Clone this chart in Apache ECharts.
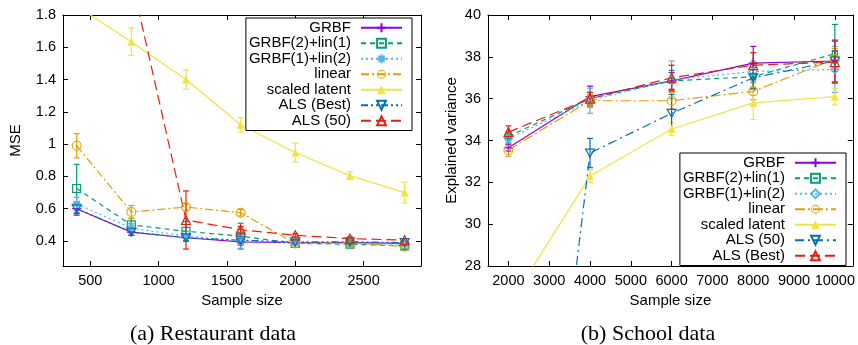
<!DOCTYPE html>
<html>
<head>
<meta charset="utf-8">
<script src="https://cdn.jsdelivr.net/npm/echarts@6/dist/echarts.min.js"></script>
<style>
  html, body { margin: 0; padding: 0; background: #fff; }
  #chart { width: 858px; height: 345px; }
</style>
</head>
<body>
<div id="chart"></div>
<script>
// ---- (a) Restaurant data ----
const restSizes = [400, 800, 1200, 1600, 2000, 2400, 2800];
const restTicksX = [500, 1000, 1500, 2000, 2500];
const restTicksY = [0.4, 0.6, 0.8, 1, 1.2, 1.4, 1.6, 1.8];
const restNames = ['GRBF', 'GRBF(2)+lin(1)', 'GRBF(1)+lin(2)', 'linear', 'scaled latent', 'ALS (Best)', 'ALS (50)'];

const restGRBF = [0.60, 0.455, 0.42, 0.395, 0.39, 0.39, 0.385];
const restGRBFErr = [0.04, 0.02, 0.02, 0.02, 0.01, 0.01, 0.01];
const restG2L1 = [0.725, 0.50, 0.46, 0.43, 0.385, 0.38, 0.37];
const restG2L1Err = [0.15, 0.04, 0.06, 0.08, 0.01, 0.015, 0.015];
const restG1L2 = [0.63, 0.48, 0.43, 0.40, 0.39, 0.385, 0.38];
const restG1L2Err = [0.04, 0.03, 0.03, 0.045, 0.01, 0.01, 0.01];
const restLinear = [0.99, 0.58, 0.61, 0.575, 0.385, 0.39, 0.365];
const restLinearErr = [0.075, 0.04, 0.02, 0.02, 0.01, 0.01, 0.02];
const restScaled = [1.855, 1.635, 1.40, 1.12, 0.948, 0.805, 0.70];
const restScaledErr = [0.04, 0.085, 0.06, 0.045, 0.058, 0.025, 0.065];
const restALSBest = [0.60, 0.455, 0.42, 0.405, 0.395, 0.395, 0.39];
const restALSBestErr = [0.03, 0.02, 0.02, 0.02, 0.01, 0.01, 0.01];
const restALS50 = [null, 2.03, 0.53, 0.47, 0.435, 0.415, 0.405];
const restALS50Err = [null, 0.2, 0.18, 0.02, 0.01, 0.01, 0.01];

// ---- (b) School data ----
const schoolSizes = [2000, 4000, 6000, 8000, 10000];
const schoolTicksX = [2000, 3000, 4000, 5000, 6000, 7000, 8000, 9000, 10000];
const schoolTicksY = [28, 30, 32, 34, 36, 38, 40];
const schoolNames = ['GRBF', 'GRBF(2)+lin(1)', 'GRBF(1)+lin(2)', 'linear', 'scaled latent', 'ALS (50)', 'ALS (Best)'];

const schoolGRBF = [33.65, 36.1, 36.85, 37.7, 37.8];
const schoolGRBFErr = [0.15, 0.5, 0.4, 0.8, 1.0];
const schoolG2L1 = [34.2, 36.0, 36.85, 37.05, 38.15];
const schoolG2L1Err = [0.2, 0.3, 0.5, 0.6, 1.4];
const schoolG1L2 = [34.1, 35.9, 36.9, 37.3, 37.4];
const schoolG1L2Err = [0.2, 0.6, 0.9, 0.5, 1.1];
const schoolLinear = [33.55, 35.9, 35.9, 36.35, 37.9];
const schoolLinearErr = [0.3, 0.3, 0.4, 0.4, 0.5];
const schoolScaled = [26.1, 32.3, 34.55, 35.8, 36.1];
const schoolScaledErr = [0.2, 0.3, 0.3, 0.8, 0.4];
const schoolALS50 = [1.0, 33.4, 35.3, 37.0, 37.8];
const schoolALS50Err = [0.2, 0.7, 0.9, 0.5, 0.5];
const schoolALSBest = [34.4, 36.0, 37.0, 37.6, 37.75];
const schoolALSBestErr = [0.3, 0.3, 0.6, 0.6, 1.0];

// ---- styles ----
const C = ['#9400D3', '#009E73', '#56B4E9', '#E69F00', '#F0E442', '#0072B2', '#E51E10'];
const PLUS = 'path://M0,5L10,5M5,0L5,10';
const STAR = 'path://M0,5L10,5M5,0L5,10M1.5,1.5L8.5,8.5M1.5,8.5L8.5,1.5';
const CIRCLE_DOT = 'path://M5,0A5,5 0 1,1 5,10A5,5 0 1,1 5,0Z M5,1.1A3.9,3.9 0 1,0 5,8.9A3.9,3.9 0 1,0 5,1.1Z M5,4.1A0.9,0.9 0 1,1 5,5.9A0.9,0.9 0 1,1 5,4.1Z';
const DOWN_TRI = 'path://M0,0L10,0L5,8.7Z';
const CLEAR = 'rgba(0,0,0,0)';

function sym(symbol, size, color, filled) {
  return { symbol, size, itemStyle: filled
    ? { color, borderWidth: 0 }
    : { color: CLEAR, borderColor: color, borderWidth: 1.2 } };
}

const restStyles = [
  { ...sym(PLUS, 9, C[0]), dash: 'solid' },
  { ...sym('rect', 8, C[1]), dash: [5, 4] },
  { ...sym(STAR, 9, C[2]), dash: [2, 3] },
  { ...sym(CIRCLE_DOT, 10, C[3], true), dash: [8, 3, 2, 3] },
  { ...sym('triangle', 8, C[4], true), dash: 'solid' },
  { ...sym(DOWN_TRI, 9, C[5]), dash: [7, 3, 2, 3, 2, 3] },
  { ...sym('triangle', 9, C[6]), dash: [10, 5] }
];
const schoolStyles = [
  { ...sym(PLUS, 9, C[0]), dash: 'solid' },
  { ...sym('rect', 5, C[1]), dash: [5, 4] },
  { ...sym('diamond', 8, C[2]), dash: [2, 3] },
  { ...sym(CIRCLE_DOT, 10, C[3], true), dash: [10, 3, 2, 3] },
  { ...sym('triangle', 8, C[4], true), dash: 'solid' },
  { ...sym(DOWN_TRI, 9, C[5]), dash: [9, 4, 2, 4] },
  { ...sym('triangle', 9, C[6]), dash: [10, 5] }
];

const restValues = [restGRBF, restG2L1, restG1L2, restLinear, restScaled, restALSBest, restALS50];
const restErrs = [restGRBFErr, restG2L1Err, restG1L2Err, restLinearErr, restScaledErr, restALSBestErr, restALS50Err];
const schoolValues = [schoolGRBF, schoolG2L1, schoolG1L2, schoolLinear, schoolScaled, schoolALS50, schoolALSBest];
const schoolErrs = [schoolGRBFErr, schoolG2L1Err, schoolG1L2Err, schoolLinearErr, schoolScaledErr, schoolALS50Err, schoolALSBestErr];

const FONT = 'Liberation Sans';

function lineSeries(name, xs, ys, st, axis) {
  return {
    type: 'line', name, xAxisIndex: axis, yAxisIndex: axis,
    data: xs.map((x, i) => [x, ys[i]]),
    symbol: st.symbol, symbolSize: st.size, symbolKeepAspect: true,
    showAllSymbol: true, clip: true, connectNulls: false,
    lineStyle: { color: st.itemStyle.borderColor || st.itemStyle.color, width: 1.2, type: st.dash },
    itemStyle: st.itemStyle,
    emphasis: { disabled: true }, silent: true, z: 3
  };
}

function errSeries(xs, ys, errs, color, axis) {
  const data = [];
  xs.forEach((x, i) => {
    if (ys[i] != null && errs[i] != null) data.push([x, ys[i] - errs[i], ys[i] + errs[i]]);
  });
  return {
    type: 'custom', xAxisIndex: axis, yAxisIndex: axis, clip: true, silent: true, z: 3,
    data, encode: { x: 0, y: [1, 2] },
    renderItem: (params, api) => {
      const lo = api.coord([api.value(0), api.value(1)]);
      const hi = api.coord([api.value(0), api.value(2)]);
      const w = 3;
      const st = { stroke: color, lineWidth: 1.2 };
      return { type: 'group', children: [
        { type: 'line', shape: { x1: lo[0], y1: lo[1], x2: hi[0], y2: hi[1] }, style: st },
        { type: 'line', shape: { x1: lo[0] - w, y1: lo[1], x2: lo[0] + w, y2: lo[1] }, style: st },
        { type: 'line', shape: { x1: hi[0] - w, y1: hi[1], x2: hi[0] + w, y2: hi[1] }, style: st }
      ] };
    }
  };
}

const series = [];
restNames.forEach((n, k) => {
  const col = restStyles[k].itemStyle.borderColor || restStyles[k].itemStyle.color;
  series.push(errSeries(restSizes, restValues[k], restErrs[k], col, 0));
  series.push(lineSeries(n, restSizes, restValues[k], restStyles[k], 0));
});
schoolNames.forEach((n, k) => {
  const col = schoolStyles[k].itemStyle.borderColor || schoolStyles[k].itemStyle.color;
  series.push(errSeries(schoolSizes, schoolValues[k], schoolErrs[k], col, 2));
  // trailing space keeps names distinct from panel (a); trimmed in the legend
  series.push(lineSeries(n + ' ', schoolSizes, schoolValues[k], schoolStyles[k], 2));
});

const axisLine = { show: true, lineStyle: { color: '#000', width: 1 } };
const labelStyle = { color: '#000', fontFamily: FONT, fontSize: 14.5 };

function xAx(grid, min, max, ticks, pos, name) {
  const bottom = pos === 'bottom';
  return {
    type: 'value', gridIndex: grid, position: pos, min, max,
    axisLine, splitLine: { show: false },
    axisTick: { inside: true, length: 5, lineStyle: { color: '#000' }, customValues: ticks },
    axisLabel: { show: bottom, ...labelStyle, margin: 7, customValues: ticks, formatter: v => String(v) },
    name: bottom ? name : '', nameLocation: 'middle', nameGap: 24,
    nameTextStyle: { color: '#000', fontFamily: FONT, fontSize: 15 }
  };
}
function yAx(grid, min, max, ticks, pos, name, gap, fmt) {
  const left = pos === 'left';
  return {
    type: 'value', gridIndex: grid, position: pos, min, max,
    axisLine, splitLine: { show: false },
    axisTick: { inside: true, length: 5, lineStyle: { color: '#000' }, customValues: ticks },
    axisLabel: { show: left, ...labelStyle, margin: 7, customValues: ticks, formatter: fmt },
    name: left ? name : '', nameLocation: 'middle', nameGap: gap, nameRotate: 90,
    nameTextStyle: { color: '#000', fontFamily: FONT, fontSize: 15 }
  };
}

const restFmt = v => (Math.abs(v - 1) < 1e-9 ? '1' : v.toFixed(1));
const schoolFmt = v => String(Math.round(v));

function legend(names, right, top) {
  return {
    data: names, orient: 'vertical', align: 'right', right, top,
    itemWidth: 41, itemHeight: 11, itemGap: 0, selectedMode: false,
    padding: [2, 9, 2, 3], borderColor: '#000', borderWidth: 1, backgroundColor: '#fff',
    textStyle: { color: '#000', fontFamily: FONT, fontSize: 15, lineHeight: 15.5, padding: [0, 5, 0, 0] },
    formatter: n => n.trim(), z: 10
  };
}

const option = {
  animation: false,
  grid: [
    { left: 63, top: 15, width: 358, height: 251 },
    { left: 488, top: 15, width: 365, height: 251 }
  ],
  xAxis: [
    xAx(0, 300, 2920, restTicksX, 'bottom', 'Sample size'),
    xAx(0, 300, 2920, restTicksX, 'top', ''),
    xAx(1, 1500, 10440, schoolTicksX, 'bottom', 'Sample size'),
    xAx(1, 1500, 10440, schoolTicksX, 'top', '')
  ],
  yAxis: [
    yAx(0, 0.245, 1.8, restTicksY, 'left', 'MSE', 40, restFmt),
    yAx(0, 0.245, 1.8, restTicksY, 'right', '', 0, restFmt),
    yAx(1, 28, 40, schoolTicksY, 'left', 'Explained variance', 29, schoolFmt),
    yAx(1, 28, 40, schoolTicksY, 'right', '', 0, schoolFmt)
  ],
  legend: [
    legend(restNames, 858 - 412, 18),
    legend(schoolNames.map(n => n + ' '), 858 - 846, 153)
  ],
  graphic: [
    { type: 'text', x: 213, y: 334, style: { text: '(a) Restaurant data', fill: '#000',
      font: '22px "Liberation Serif"', textAlign: 'center', textVerticalAlign: 'middle' } },
    { type: 'text', x: 648, y: 334, style: { text: '(b) School data', fill: '#000',
      font: '22px "Liberation Serif"', textAlign: 'center', textVerticalAlign: 'middle' } }
  ],
  series
};

echarts.init(document.getElementById('chart')).setOption(option);
</script>
</body>
</html>
